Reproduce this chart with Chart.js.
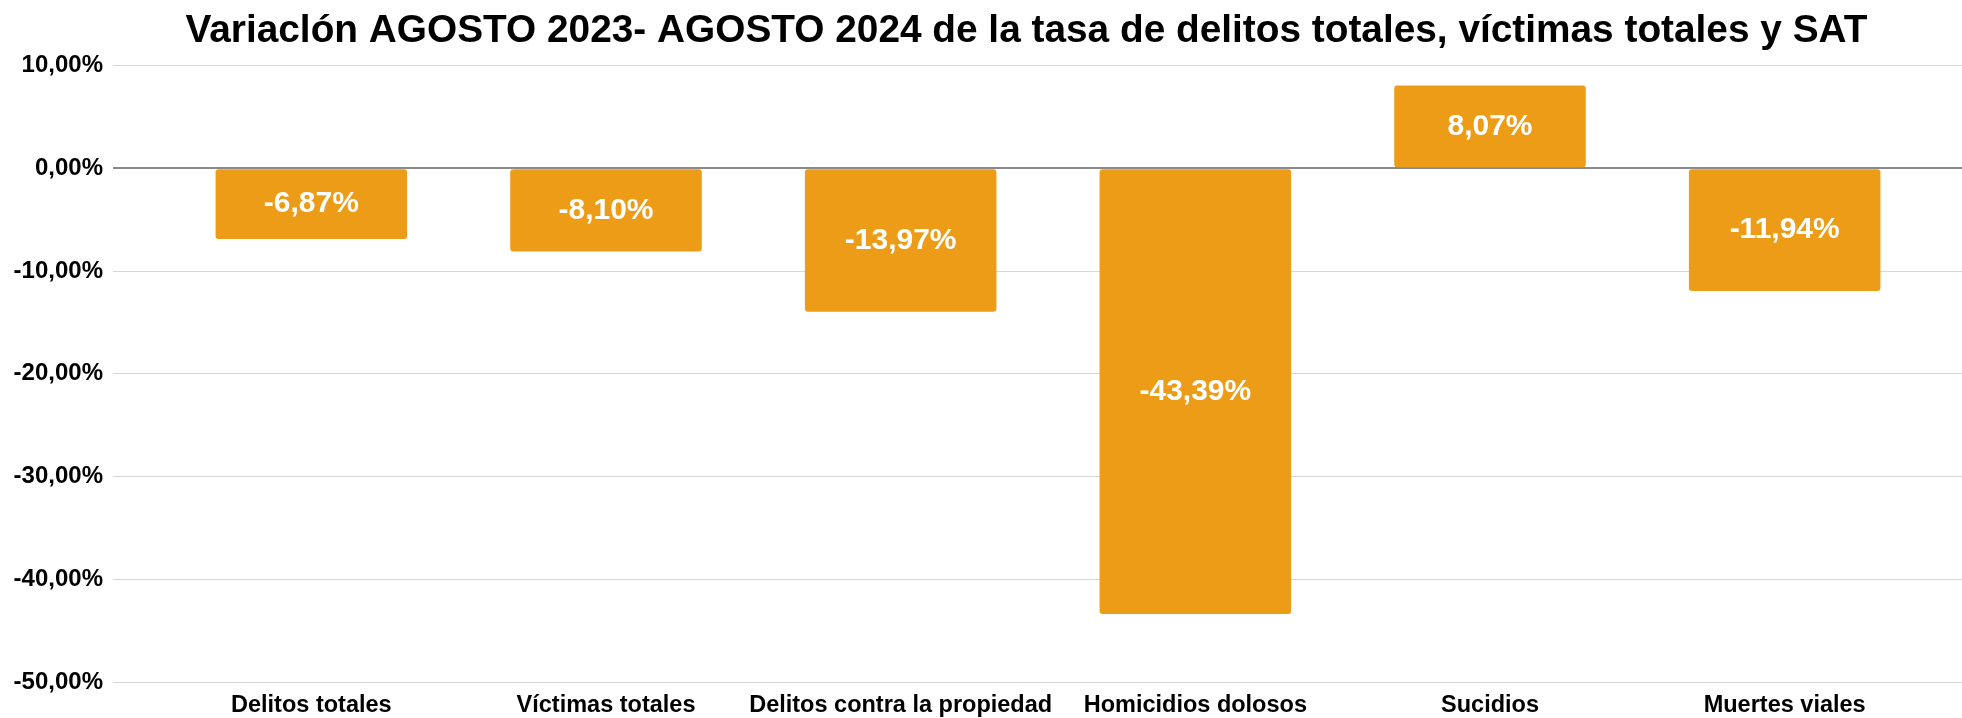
<!DOCTYPE html>
<html>
<head>
<meta charset="utf-8">
<script src="https://cdn.jsdelivr.net/npm/chart.js@4/dist/chart.umd.min.js"></script>
<style>
  body { margin: 0; background: #fff; }
  #wrap { width: 1962px; height: 718px; }
</style>
</head>
<body>
<div id="wrap"><canvas id="myChart"></canvas></div>
<script>
const categories = ['Delitos totales', 'Víctimas totales', 'Delitos contra la propiedad', 'Homicidios dolosos', 'Sucidios', 'Muertes viales'];
const variation = [-6.87, -8.10, -13.97, -43.39, 8.07, -11.94];
const yTicks = [10, 0, -10, -20, -30, -40, -50];

const fmtPct = (v) => v.toFixed(2).replace('.', ',') + '%';

// white value labels in the middle of each bar
const barLabels = {
    id: 'barLabels',
    afterDatasetsDraw(chart) {
        const ctx = chart.ctx;
        const meta = chart.getDatasetMeta(0);
        ctx.save();
        ctx.fillStyle = '#ffffff';
        ctx.font = 'bold 30px "Liberation Sans", Arial, sans-serif';
        ctx.textAlign = 'center';
        ctx.textBaseline = 'middle';
        meta.data.forEach((bar, i) => {
            ctx.fillText(fmtPct(variation[i]), bar.x, (bar.y + bar.base) / 2);
        });
        ctx.restore();
    }
};

const gridColor = (c) => c.tick && c.tick.value === 0 ? '#8a8a8a' : '#d6d6d6';
const gridWidth = (c) => c.tick && c.tick.value === 0 ? 2 : 1;

var ctx = document.getElementById('myChart').getContext('2d');
new Chart(ctx, {
    type: 'bar',
    data: {
        labels: categories,
        datasets: [{
            data: variation,
            backgroundColor: '#ED9C17',
            borderRadius: 3,
            borderSkipped: false,
            barPercentage: 0.65,
            categoryPercentage: 1
        }]
    },
    options: {
        responsive: true,
        maintainAspectRatio: false,
        animation: false,
        layout: { padding: 0 },
        plugins: {
            legend: { display: false },
            tooltip: { enabled: false },
            title: {
                display: true,
                fullSize: false,
                // trailing spaces nudge the centred title a little to the left
                text: 'Variaclón AGOSTO 2023- AGOSTO 2024 de la tasa de delitos totales, víctimas totales y SAT    ',
                color: '#000000',
                font: { family: '"Liberation Sans", Arial, sans-serif', size: 38.8, weight: 'bold', lineHeight: 1.2 },
                padding: { top: 8, bottom: 11 }
            }
        },
        scales: {
            x: {
                grid: { display: false, drawTicks: false },
                border: { display: false },
                ticks: {
                    color: '#000000',
                    padding: 9,
                    maxRotation: 0,
                    autoSkip: false,
                    font: { family: '"Liberation Sans", Arial, sans-serif', size: 23.5, weight: 'bold' }
                },
                afterFit(scale) { scale.height = 36; }
            },
            y: {
                min: -50,
                max: 10,
                afterBuildTicks(scale) { scale.ticks = yTicks.map(v => ({ value: v })); },
                grid: { color: gridColor, lineWidth: gridWidth, tickLength: 51, tickColor: gridColor },
                border: { display: false },
                ticks: {
                    color: '#000000',
                    padding: 10,
                    font: { family: '"Liberation Sans", Arial, sans-serif', size: 24, weight: 'bold' },
                    callback: (v) => fmtPct(v)
                },
                afterFit(scale) { scale.width = 164; }
            },
            yRight: {
                position: 'right',
                min: -50,
                max: 10,
                afterBuildTicks(scale) { scale.ticks = yTicks.map(v => ({ value: v })); },
                grid: { color: gridColor, lineWidth: gridWidth, tickLength: 30, tickColor: gridColor, drawOnChartArea: false },
                border: { display: false },
                ticks: { display: false },
                afterFit(scale) { scale.width = 30; }
            }
        }
    },
    plugins: [barLabels]
});
</script>
</body>
</html>
